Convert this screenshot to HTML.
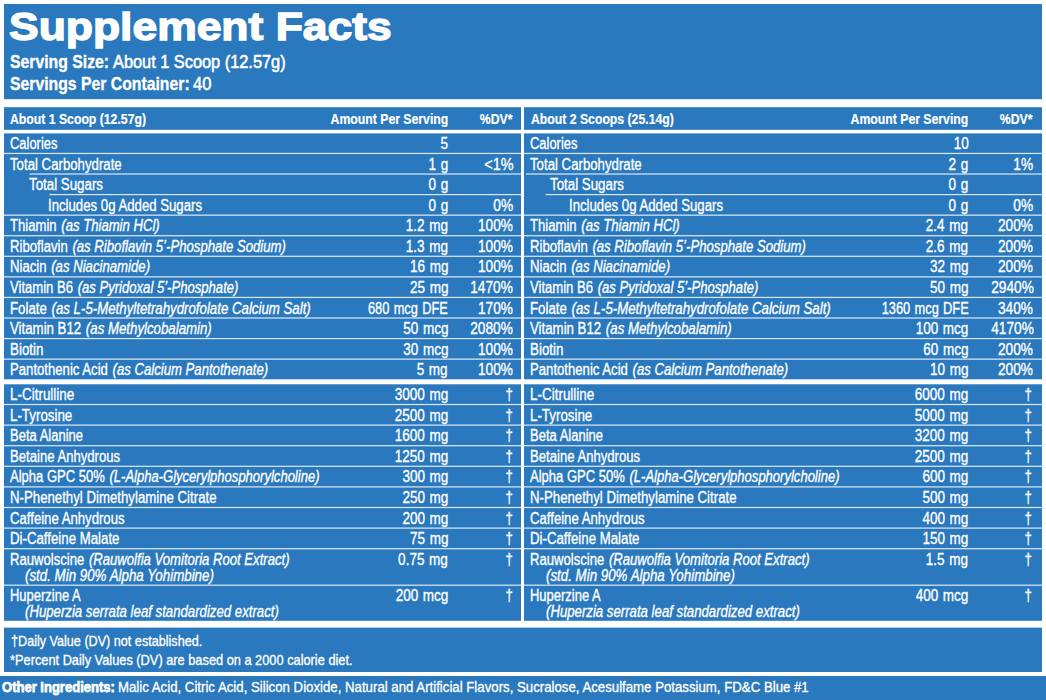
<!DOCTYPE html>
<html><head><meta charset="utf-8"><title>Supplement Facts</title>
<style>
html,body{margin:0;padding:0;background:#fff}
body{width:1046px;height:700px;position:relative;overflow:hidden;font-family:"Liberation Sans",sans-serif;color:#fff}
.bg{position:absolute;left:0;top:0}
.t{position:absolute;white-space:nowrap;-webkit-text-stroke:0.35px #fff}
.ln{position:absolute;height:1px;background:#d9e6f1}
i{font-style:italic;margin-left:1.2px}
b{font-weight:bold}
</style></head><body>
<svg class="bg" width="1046" height="700" viewBox="0 0 1046 700"><rect x="4" y="4" width="1038" height="95.2" fill="#2a78bd"/><rect x="4" y="107.2" width="517" height="22.6" fill="#2a78bd"/><rect x="4" y="133.4" width="517" height="245.9" fill="#2a78bd"/><rect x="4" y="152.82" width="517" height="1.25" fill="#d9e6f1"/><rect x="29.5" y="173.39" width="491.5" height="1.25" fill="#d9e6f1"/><rect x="49.3" y="193.96" width="471.7" height="1.25" fill="#d9e6f1"/><rect x="4" y="214.53" width="517" height="1.25" fill="#d9e6f1"/><rect x="4" y="235.10" width="517" height="1.25" fill="#d9e6f1"/><rect x="4" y="255.67" width="517" height="1.25" fill="#d9e6f1"/><rect x="4" y="276.25" width="517" height="1.25" fill="#d9e6f1"/><rect x="4" y="296.81" width="517" height="1.25" fill="#d9e6f1"/><rect x="4" y="317.38" width="517" height="1.25" fill="#d9e6f1"/><rect x="4" y="337.95" width="517" height="1.25" fill="#d9e6f1"/><rect x="4" y="358.52" width="517" height="1.25" fill="#d9e6f1"/><rect x="4" y="384.3" width="517" height="236.5" fill="#2a78bd"/><rect x="4" y="403.88" width="517" height="1.25" fill="#d9e6f1"/><rect x="4" y="424.48" width="517" height="1.25" fill="#d9e6f1"/><rect x="4" y="445.07" width="517" height="1.25" fill="#d9e6f1"/><rect x="4" y="465.68" width="517" height="1.25" fill="#d9e6f1"/><rect x="4" y="486.27" width="517" height="1.25" fill="#d9e6f1"/><rect x="4" y="506.88" width="517" height="1.25" fill="#d9e6f1"/><rect x="4" y="527.48" width="517" height="1.25" fill="#d9e6f1"/><rect x="4" y="548.08" width="517" height="1.25" fill="#d9e6f1"/><rect x="4" y="584.58" width="517" height="1.25" fill="#d9e6f1"/><rect x="524" y="107.2" width="518" height="22.6" fill="#2a78bd"/><rect x="524" y="133.4" width="518" height="245.9" fill="#2a78bd"/><rect x="524" y="152.82" width="518" height="1.25" fill="#d9e6f1"/><rect x="526" y="173.39" width="516" height="1.25" fill="#d9e6f1"/><rect x="545.5" y="193.96" width="496.5" height="1.25" fill="#d9e6f1"/><rect x="524" y="214.53" width="518" height="1.25" fill="#d9e6f1"/><rect x="524" y="235.10" width="518" height="1.25" fill="#d9e6f1"/><rect x="524" y="255.67" width="518" height="1.25" fill="#d9e6f1"/><rect x="524" y="276.25" width="518" height="1.25" fill="#d9e6f1"/><rect x="524" y="296.81" width="518" height="1.25" fill="#d9e6f1"/><rect x="524" y="317.38" width="518" height="1.25" fill="#d9e6f1"/><rect x="524" y="337.95" width="518" height="1.25" fill="#d9e6f1"/><rect x="524" y="358.52" width="518" height="1.25" fill="#d9e6f1"/><rect x="524" y="384.3" width="518" height="236.5" fill="#2a78bd"/><rect x="524" y="403.88" width="518" height="1.25" fill="#d9e6f1"/><rect x="524" y="424.48" width="518" height="1.25" fill="#d9e6f1"/><rect x="524" y="445.07" width="518" height="1.25" fill="#d9e6f1"/><rect x="524" y="465.68" width="518" height="1.25" fill="#d9e6f1"/><rect x="524" y="486.27" width="518" height="1.25" fill="#d9e6f1"/><rect x="524" y="506.88" width="518" height="1.25" fill="#d9e6f1"/><rect x="524" y="527.48" width="518" height="1.25" fill="#d9e6f1"/><rect x="524" y="548.08" width="518" height="1.25" fill="#d9e6f1"/><rect x="524" y="584.58" width="518" height="1.25" fill="#d9e6f1"/><rect x="4" y="627.6" width="1038" height="44.4" fill="#2a78bd"/><rect x="0" y="676" width="1046" height="24" fill="#2a78bd"/></svg>
<div class="t" style="left:9.00px;top:7.16px;font-size:39.5px;line-height:39.5px;transform:scaleX(1.125);transform-origin:left 0;font-weight:bold;-webkit-text-stroke:1.4px #fff">Supplement Facts</div>
<div class="t" style="left:10.20px;top:52.31px;font-size:19px;line-height:19px;transform:scaleX(0.83);transform-origin:left 0;font-weight:bold">Serving Size:</div>
<div class="t" style="left:112.60px;top:52.31px;font-size:19px;line-height:19px;transform:scaleX(0.86);transform-origin:left 0;-webkit-text-stroke:0.6px #fff">About 1 Scoop (12.57g)</div>
<div class="t" style="left:10.20px;top:73.91px;font-size:19px;line-height:19px;transform:scaleX(0.83);transform-origin:left 0;font-weight:bold">Servings Per Container:</div>
<div class="t" style="left:192.80px;top:73.91px;font-size:19px;line-height:19px;transform:scaleX(0.87);transform-origin:left 0;-webkit-text-stroke:0.6px #fff">40</div>
<div class="t" style="left:10.00px;top:112.47px;font-size:14.8px;line-height:14.8px;transform:scaleX(0.827);transform-origin:left 0;font-weight:bold;-webkit-text-stroke:0.2px #fff">About 1 Scoop (12.57g)</div>
<div class="t" style="right:598.00px;top:112.47px;font-size:14.8px;line-height:14.8px;transform:scaleX(0.827);transform-origin:right 0;font-weight:bold;-webkit-text-stroke:0.2px #fff">Amount Per Serving</div>
<div class="t" style="right:533.40px;top:112.47px;font-size:14.8px;line-height:14.8px;transform:scaleX(0.827);transform-origin:right 0;font-weight:bold;-webkit-text-stroke:0.2px #fff">%DV*</div>
<div class="t" style="left:9.80px;top:136.15px;font-size:16px;line-height:16px;transform:scaleX(0.8077);transform-origin:left 0">Calories</div>
<div class="t" style="right:598.00px;top:136.15px;font-size:16px;line-height:16px;transform:scaleX(0.845);transform-origin:right 0;word-spacing:1px">5</div>
<div class="t" style="left:9.80px;top:156.70px;font-size:16px;line-height:16px;transform:scaleX(0.8264);transform-origin:left 0">Total Carbohydrate</div>
<div class="t" style="right:598.00px;top:156.70px;font-size:16px;line-height:16px;transform:scaleX(0.845);transform-origin:right 0;word-spacing:1px">1 g</div>
<div class="t" style="right:533.00px;top:156.70px;font-size:16px;line-height:16px;transform:scaleX(0.9);transform-origin:right 0">&lt;1%</div>
<div class="t" style="left:29.00px;top:177.25px;font-size:16px;line-height:16px;transform:scaleX(0.832);transform-origin:left 0">Total Sugars</div>
<div class="t" style="right:598.00px;top:177.25px;font-size:16px;line-height:16px;transform:scaleX(0.845);transform-origin:right 0;word-spacing:1px">0 g</div>
<div class="t" style="left:48.40px;top:197.80px;font-size:16px;line-height:16px;transform:scaleX(0.8246);transform-origin:left 0">Includes 0g Added Sugars</div>
<div class="t" style="right:598.00px;top:197.80px;font-size:16px;line-height:16px;transform:scaleX(0.845);transform-origin:right 0;word-spacing:1px">0 g</div>
<div class="t" style="right:533.00px;top:197.80px;font-size:16px;line-height:16px;transform:scaleX(0.855);transform-origin:right 0">0%</div>
<div class="t" style="left:9.80px;top:218.35px;font-size:16px;line-height:16px;transform:scaleX(0.82);transform-origin:left 0">Thiamin <i>(as Thiamin HCl)</i></div>
<div class="t" style="right:598.00px;top:218.35px;font-size:16px;line-height:16px;transform:scaleX(0.845);transform-origin:right 0;word-spacing:1px">1.2 mg</div>
<div class="t" style="right:533.00px;top:218.35px;font-size:16px;line-height:16px;transform:scaleX(0.855);transform-origin:right 0">100%</div>
<div class="t" style="left:9.80px;top:238.90px;font-size:16px;line-height:16px;transform:scaleX(0.8223);transform-origin:left 0">Riboflavin <i>(as Riboflavin 5’-Phosphate Sodium)</i></div>
<div class="t" style="right:598.00px;top:238.90px;font-size:16px;line-height:16px;transform:scaleX(0.845);transform-origin:right 0;word-spacing:1px">1.3 mg</div>
<div class="t" style="right:533.00px;top:238.90px;font-size:16px;line-height:16px;transform:scaleX(0.855);transform-origin:right 0">100%</div>
<div class="t" style="left:9.80px;top:259.45px;font-size:16px;line-height:16px;transform:scaleX(0.8231);transform-origin:left 0">Niacin <i>(as Niacinamide)</i></div>
<div class="t" style="right:598.00px;top:259.45px;font-size:16px;line-height:16px;transform:scaleX(0.845);transform-origin:right 0;word-spacing:1px">16 mg</div>
<div class="t" style="right:533.00px;top:259.45px;font-size:16px;line-height:16px;transform:scaleX(0.855);transform-origin:right 0">100%</div>
<div class="t" style="left:9.80px;top:280.00px;font-size:16px;line-height:16px;transform:scaleX(0.8179);transform-origin:left 0">Vitamin B6 <i>(as Pyridoxal 5’-Phosphate)</i></div>
<div class="t" style="right:598.00px;top:280.00px;font-size:16px;line-height:16px;transform:scaleX(0.845);transform-origin:right 0;word-spacing:1px">25 mg</div>
<div class="t" style="right:533.00px;top:280.00px;font-size:16px;line-height:16px;transform:scaleX(0.855);transform-origin:right 0">1470%</div>
<div class="t" style="left:9.80px;top:300.55px;font-size:16px;line-height:16px;transform:scaleX(0.8283);transform-origin:left 0">Folate <i>(as L-5-Methyltetrahydrofolate Calcium Salt)</i></div>
<div class="t" style="right:598.00px;top:300.55px;font-size:16px;line-height:16px;transform:scaleX(0.8);transform-origin:right 0;word-spacing:1px">680 mcg DFE</div>
<div class="t" style="right:533.00px;top:300.55px;font-size:16px;line-height:16px;transform:scaleX(0.855);transform-origin:right 0">170%</div>
<div class="t" style="left:9.80px;top:321.10px;font-size:16px;line-height:16px;transform:scaleX(0.8281);transform-origin:left 0">Vitamin B12 <i>(as Methylcobalamin)</i></div>
<div class="t" style="right:598.00px;top:321.10px;font-size:16px;line-height:16px;transform:scaleX(0.845);transform-origin:right 0;word-spacing:1px">50 mcg</div>
<div class="t" style="right:533.00px;top:321.10px;font-size:16px;line-height:16px;transform:scaleX(0.855);transform-origin:right 0">2080%</div>
<div class="t" style="left:9.80px;top:341.65px;font-size:16px;line-height:16px;transform:scaleX(0.8368);transform-origin:left 0">Biotin</div>
<div class="t" style="right:598.00px;top:341.65px;font-size:16px;line-height:16px;transform:scaleX(0.845);transform-origin:right 0;word-spacing:1px">30 mcg</div>
<div class="t" style="right:533.00px;top:341.65px;font-size:16px;line-height:16px;transform:scaleX(0.855);transform-origin:right 0">100%</div>
<div class="t" style="left:9.80px;top:362.20px;font-size:16px;line-height:16px;transform:scaleX(0.8215);transform-origin:left 0">Pantothenic Acid <i>(as Calcium Pantothenate)</i></div>
<div class="t" style="right:598.00px;top:362.20px;font-size:16px;line-height:16px;transform:scaleX(0.845);transform-origin:right 0;word-spacing:1px">5 mg</div>
<div class="t" style="right:533.00px;top:362.20px;font-size:16px;line-height:16px;transform:scaleX(0.855);transform-origin:right 0">100%</div>
<div class="t" style="left:9.80px;top:387.25px;font-size:16px;line-height:16px;transform:scaleX(0.8409);transform-origin:left 0">L-Citrulline</div>
<div class="t" style="right:598.00px;top:387.25px;font-size:16px;line-height:16px;transform:scaleX(0.845);transform-origin:right 0;word-spacing:1px">3000 mg</div>
<div class="t" style="right:533.20px;top:387.25px;font-size:16px;line-height:16px;transform:scaleX(0.825);transform-origin:right 0">†</div>
<div class="t" style="left:9.80px;top:407.80px;font-size:16px;line-height:16px;transform:scaleX(0.8337);transform-origin:left 0">L-Tyrosine</div>
<div class="t" style="right:598.00px;top:407.80px;font-size:16px;line-height:16px;transform:scaleX(0.845);transform-origin:right 0;word-spacing:1px">2500 mg</div>
<div class="t" style="right:533.20px;top:407.80px;font-size:16px;line-height:16px;transform:scaleX(0.825);transform-origin:right 0">†</div>
<div class="t" style="left:9.80px;top:428.35px;font-size:16px;line-height:16px;transform:scaleX(0.8129);transform-origin:left 0">Beta Alanine</div>
<div class="t" style="right:598.00px;top:428.35px;font-size:16px;line-height:16px;transform:scaleX(0.845);transform-origin:right 0;word-spacing:1px">1600 mg</div>
<div class="t" style="right:533.20px;top:428.35px;font-size:16px;line-height:16px;transform:scaleX(0.825);transform-origin:right 0">†</div>
<div class="t" style="left:9.80px;top:448.90px;font-size:16px;line-height:16px;transform:scaleX(0.8197);transform-origin:left 0">Betaine Anhydrous</div>
<div class="t" style="right:598.00px;top:448.90px;font-size:16px;line-height:16px;transform:scaleX(0.845);transform-origin:right 0;word-spacing:1px">1250 mg</div>
<div class="t" style="right:533.20px;top:448.90px;font-size:16px;line-height:16px;transform:scaleX(0.825);transform-origin:right 0">†</div>
<div class="t" style="left:9.80px;top:469.45px;font-size:16px;line-height:16px;transform:scaleX(0.8144);transform-origin:left 0">Alpha GPC 50% <i>(L-Alpha-Glycerylphosphorylcholine)</i></div>
<div class="t" style="right:598.00px;top:469.45px;font-size:16px;line-height:16px;transform:scaleX(0.845);transform-origin:right 0;word-spacing:1px">300 mg</div>
<div class="t" style="right:533.20px;top:469.45px;font-size:16px;line-height:16px;transform:scaleX(0.825);transform-origin:right 0">†</div>
<div class="t" style="left:9.80px;top:490.00px;font-size:16px;line-height:16px;transform:scaleX(0.8265);transform-origin:left 0">N-Phenethyl Dimethylamine Citrate</div>
<div class="t" style="right:598.00px;top:490.00px;font-size:16px;line-height:16px;transform:scaleX(0.845);transform-origin:right 0;word-spacing:1px">250 mg</div>
<div class="t" style="right:533.20px;top:490.00px;font-size:16px;line-height:16px;transform:scaleX(0.825);transform-origin:right 0">†</div>
<div class="t" style="left:9.80px;top:510.55px;font-size:16px;line-height:16px;transform:scaleX(0.8218);transform-origin:left 0">Caffeine Anhydrous</div>
<div class="t" style="right:598.00px;top:510.55px;font-size:16px;line-height:16px;transform:scaleX(0.845);transform-origin:right 0;word-spacing:1px">200 mg</div>
<div class="t" style="right:533.20px;top:510.55px;font-size:16px;line-height:16px;transform:scaleX(0.825);transform-origin:right 0">†</div>
<div class="t" style="left:9.80px;top:531.10px;font-size:16px;line-height:16px;transform:scaleX(0.8277);transform-origin:left 0">Di-Caffeine Malate</div>
<div class="t" style="right:598.00px;top:531.10px;font-size:16px;line-height:16px;transform:scaleX(0.845);transform-origin:right 0;word-spacing:1px">75 mg</div>
<div class="t" style="right:533.20px;top:531.10px;font-size:16px;line-height:16px;transform:scaleX(0.825);transform-origin:right 0">†</div>
<div class="t" style="left:9.80px;top:551.65px;font-size:16px;line-height:16px;transform:scaleX(0.8193);transform-origin:left 0">Rauwolscine <i>(Rauwolfia Vomitoria Root Extract)</i></div>
<div class="t" style="left:24.30px;top:567.75px;font-size:16px;line-height:16px;transform:scaleX(0.8328);transform-origin:left 0"><i>(std. Min 90% Alpha Yohimbine)</i></div>
<div class="t" style="right:598.00px;top:551.65px;font-size:16px;line-height:16px;transform:scaleX(0.845);transform-origin:right 0;word-spacing:1px">0.75 mg</div>
<div class="t" style="right:533.20px;top:551.65px;font-size:16px;line-height:16px;transform:scaleX(0.825);transform-origin:right 0">†</div>
<div class="t" style="left:9.80px;top:587.55px;font-size:16px;line-height:16px;transform:scaleX(0.811);transform-origin:left 0">Huperzine A</div>
<div class="t" style="left:24.30px;top:603.85px;font-size:16px;line-height:16px;transform:scaleX(0.825);transform-origin:left 0"><i>(Huperzia serrata leaf standardized extract)</i></div>
<div class="t" style="right:598.00px;top:587.55px;font-size:16px;line-height:16px;transform:scaleX(0.845);transform-origin:right 0;word-spacing:1px">200 mcg</div>
<div class="t" style="right:533.20px;top:587.55px;font-size:16px;line-height:16px;transform:scaleX(0.825);transform-origin:right 0">†</div>
<div class="t" style="left:531.00px;top:112.47px;font-size:14.8px;line-height:14.8px;transform:scaleX(0.827);transform-origin:left 0;font-weight:bold;-webkit-text-stroke:0.2px #fff">About 2 Scoops (25.14g)</div>
<div class="t" style="right:77.60px;top:112.47px;font-size:14.8px;line-height:14.8px;transform:scaleX(0.827);transform-origin:right 0;font-weight:bold;-webkit-text-stroke:0.2px #fff">Amount Per Serving</div>
<div class="t" style="right:13.50px;top:112.47px;font-size:14.8px;line-height:14.8px;transform:scaleX(0.827);transform-origin:right 0;font-weight:bold;-webkit-text-stroke:0.2px #fff">%DV*</div>
<div class="t" style="left:530.40px;top:136.15px;font-size:16px;line-height:16px;transform:scaleX(0.8077);transform-origin:left 0">Calories</div>
<div class="t" style="right:77.60px;top:136.15px;font-size:16px;line-height:16px;transform:scaleX(0.845);transform-origin:right 0;word-spacing:1px">10</div>
<div class="t" style="left:530.40px;top:156.70px;font-size:16px;line-height:16px;transform:scaleX(0.8264);transform-origin:left 0">Total Carbohydrate</div>
<div class="t" style="right:77.60px;top:156.70px;font-size:16px;line-height:16px;transform:scaleX(0.845);transform-origin:right 0;word-spacing:1px">2 g</div>
<div class="t" style="right:12.60px;top:156.70px;font-size:16px;line-height:16px;transform:scaleX(0.855);transform-origin:right 0">1%</div>
<div class="t" style="left:550.20px;top:177.25px;font-size:16px;line-height:16px;transform:scaleX(0.832);transform-origin:left 0">Total Sugars</div>
<div class="t" style="right:77.60px;top:177.25px;font-size:16px;line-height:16px;transform:scaleX(0.845);transform-origin:right 0;word-spacing:1px">0 g</div>
<div class="t" style="left:569.30px;top:197.80px;font-size:16px;line-height:16px;transform:scaleX(0.8246);transform-origin:left 0">Includes 0g Added Sugars</div>
<div class="t" style="right:77.60px;top:197.80px;font-size:16px;line-height:16px;transform:scaleX(0.845);transform-origin:right 0;word-spacing:1px">0 g</div>
<div class="t" style="right:12.60px;top:197.80px;font-size:16px;line-height:16px;transform:scaleX(0.855);transform-origin:right 0">0%</div>
<div class="t" style="left:530.40px;top:218.35px;font-size:16px;line-height:16px;transform:scaleX(0.82);transform-origin:left 0">Thiamin <i>(as Thiamin HCl)</i></div>
<div class="t" style="right:77.60px;top:218.35px;font-size:16px;line-height:16px;transform:scaleX(0.845);transform-origin:right 0;word-spacing:1px">2.4 mg</div>
<div class="t" style="right:12.60px;top:218.35px;font-size:16px;line-height:16px;transform:scaleX(0.855);transform-origin:right 0">200%</div>
<div class="t" style="left:530.40px;top:238.90px;font-size:16px;line-height:16px;transform:scaleX(0.8223);transform-origin:left 0">Riboflavin <i>(as Riboflavin 5’-Phosphate Sodium)</i></div>
<div class="t" style="right:77.60px;top:238.90px;font-size:16px;line-height:16px;transform:scaleX(0.845);transform-origin:right 0;word-spacing:1px">2.6 mg</div>
<div class="t" style="right:12.60px;top:238.90px;font-size:16px;line-height:16px;transform:scaleX(0.855);transform-origin:right 0">200%</div>
<div class="t" style="left:530.40px;top:259.45px;font-size:16px;line-height:16px;transform:scaleX(0.8231);transform-origin:left 0">Niacin <i>(as Niacinamide)</i></div>
<div class="t" style="right:77.60px;top:259.45px;font-size:16px;line-height:16px;transform:scaleX(0.845);transform-origin:right 0;word-spacing:1px">32 mg</div>
<div class="t" style="right:12.60px;top:259.45px;font-size:16px;line-height:16px;transform:scaleX(0.855);transform-origin:right 0">200%</div>
<div class="t" style="left:530.40px;top:280.00px;font-size:16px;line-height:16px;transform:scaleX(0.8179);transform-origin:left 0">Vitamin B6 <i>(as Pyridoxal 5’-Phosphate)</i></div>
<div class="t" style="right:77.60px;top:280.00px;font-size:16px;line-height:16px;transform:scaleX(0.845);transform-origin:right 0;word-spacing:1px">50 mg</div>
<div class="t" style="right:12.60px;top:280.00px;font-size:16px;line-height:16px;transform:scaleX(0.855);transform-origin:right 0">2940%</div>
<div class="t" style="left:530.40px;top:300.55px;font-size:16px;line-height:16px;transform:scaleX(0.8283);transform-origin:left 0">Folate <i>(as L-5-Methyltetrahydrofolate Calcium Salt)</i></div>
<div class="t" style="right:77.60px;top:300.55px;font-size:16px;line-height:16px;transform:scaleX(0.8);transform-origin:right 0;word-spacing:1px">1360 mcg DFE</div>
<div class="t" style="right:12.60px;top:300.55px;font-size:16px;line-height:16px;transform:scaleX(0.855);transform-origin:right 0">340%</div>
<div class="t" style="left:530.40px;top:321.10px;font-size:16px;line-height:16px;transform:scaleX(0.8281);transform-origin:left 0">Vitamin B12 <i>(as Methylcobalamin)</i></div>
<div class="t" style="right:77.60px;top:321.10px;font-size:16px;line-height:16px;transform:scaleX(0.845);transform-origin:right 0;word-spacing:1px">100 mcg</div>
<div class="t" style="right:12.60px;top:321.10px;font-size:16px;line-height:16px;transform:scaleX(0.855);transform-origin:right 0">4170%</div>
<div class="t" style="left:530.40px;top:341.65px;font-size:16px;line-height:16px;transform:scaleX(0.8368);transform-origin:left 0">Biotin</div>
<div class="t" style="right:77.60px;top:341.65px;font-size:16px;line-height:16px;transform:scaleX(0.845);transform-origin:right 0;word-spacing:1px">60 mcg</div>
<div class="t" style="right:12.60px;top:341.65px;font-size:16px;line-height:16px;transform:scaleX(0.855);transform-origin:right 0">200%</div>
<div class="t" style="left:530.40px;top:362.20px;font-size:16px;line-height:16px;transform:scaleX(0.8215);transform-origin:left 0">Pantothenic Acid <i>(as Calcium Pantothenate)</i></div>
<div class="t" style="right:77.60px;top:362.20px;font-size:16px;line-height:16px;transform:scaleX(0.845);transform-origin:right 0;word-spacing:1px">10 mg</div>
<div class="t" style="right:12.60px;top:362.20px;font-size:16px;line-height:16px;transform:scaleX(0.855);transform-origin:right 0">200%</div>
<div class="t" style="left:530.40px;top:387.25px;font-size:16px;line-height:16px;transform:scaleX(0.8409);transform-origin:left 0">L-Citrulline</div>
<div class="t" style="right:77.60px;top:387.25px;font-size:16px;line-height:16px;transform:scaleX(0.845);transform-origin:right 0;word-spacing:1px">6000 mg</div>
<div class="t" style="right:13.80px;top:387.25px;font-size:16px;line-height:16px;transform:scaleX(0.825);transform-origin:right 0">†</div>
<div class="t" style="left:530.40px;top:407.80px;font-size:16px;line-height:16px;transform:scaleX(0.8337);transform-origin:left 0">L-Tyrosine</div>
<div class="t" style="right:77.60px;top:407.80px;font-size:16px;line-height:16px;transform:scaleX(0.845);transform-origin:right 0;word-spacing:1px">5000 mg</div>
<div class="t" style="right:13.80px;top:407.80px;font-size:16px;line-height:16px;transform:scaleX(0.825);transform-origin:right 0">†</div>
<div class="t" style="left:530.40px;top:428.35px;font-size:16px;line-height:16px;transform:scaleX(0.8129);transform-origin:left 0">Beta Alanine</div>
<div class="t" style="right:77.60px;top:428.35px;font-size:16px;line-height:16px;transform:scaleX(0.845);transform-origin:right 0;word-spacing:1px">3200 mg</div>
<div class="t" style="right:13.80px;top:428.35px;font-size:16px;line-height:16px;transform:scaleX(0.825);transform-origin:right 0">†</div>
<div class="t" style="left:530.40px;top:448.90px;font-size:16px;line-height:16px;transform:scaleX(0.8197);transform-origin:left 0">Betaine Anhydrous</div>
<div class="t" style="right:77.60px;top:448.90px;font-size:16px;line-height:16px;transform:scaleX(0.845);transform-origin:right 0;word-spacing:1px">2500 mg</div>
<div class="t" style="right:13.80px;top:448.90px;font-size:16px;line-height:16px;transform:scaleX(0.825);transform-origin:right 0">†</div>
<div class="t" style="left:530.40px;top:469.45px;font-size:16px;line-height:16px;transform:scaleX(0.8144);transform-origin:left 0">Alpha GPC 50% <i>(L-Alpha-Glycerylphosphorylcholine)</i></div>
<div class="t" style="right:77.60px;top:469.45px;font-size:16px;line-height:16px;transform:scaleX(0.845);transform-origin:right 0;word-spacing:1px">600 mg</div>
<div class="t" style="right:13.80px;top:469.45px;font-size:16px;line-height:16px;transform:scaleX(0.825);transform-origin:right 0">†</div>
<div class="t" style="left:530.40px;top:490.00px;font-size:16px;line-height:16px;transform:scaleX(0.8265);transform-origin:left 0">N-Phenethyl Dimethylamine Citrate</div>
<div class="t" style="right:77.60px;top:490.00px;font-size:16px;line-height:16px;transform:scaleX(0.845);transform-origin:right 0;word-spacing:1px">500 mg</div>
<div class="t" style="right:13.80px;top:490.00px;font-size:16px;line-height:16px;transform:scaleX(0.825);transform-origin:right 0">†</div>
<div class="t" style="left:530.40px;top:510.55px;font-size:16px;line-height:16px;transform:scaleX(0.8218);transform-origin:left 0">Caffeine Anhydrous</div>
<div class="t" style="right:77.60px;top:510.55px;font-size:16px;line-height:16px;transform:scaleX(0.845);transform-origin:right 0;word-spacing:1px">400 mg</div>
<div class="t" style="right:13.80px;top:510.55px;font-size:16px;line-height:16px;transform:scaleX(0.825);transform-origin:right 0">†</div>
<div class="t" style="left:530.40px;top:531.10px;font-size:16px;line-height:16px;transform:scaleX(0.8277);transform-origin:left 0">Di-Caffeine Malate</div>
<div class="t" style="right:77.60px;top:531.10px;font-size:16px;line-height:16px;transform:scaleX(0.845);transform-origin:right 0;word-spacing:1px">150 mg</div>
<div class="t" style="right:13.80px;top:531.10px;font-size:16px;line-height:16px;transform:scaleX(0.825);transform-origin:right 0">†</div>
<div class="t" style="left:530.40px;top:551.65px;font-size:16px;line-height:16px;transform:scaleX(0.8193);transform-origin:left 0">Rauwolscine <i>(Rauwolfia Vomitoria Root Extract)</i></div>
<div class="t" style="left:544.90px;top:567.75px;font-size:16px;line-height:16px;transform:scaleX(0.8328);transform-origin:left 0"><i>(std. Min 90% Alpha Yohimbine)</i></div>
<div class="t" style="right:77.60px;top:551.65px;font-size:16px;line-height:16px;transform:scaleX(0.845);transform-origin:right 0;word-spacing:1px">1.5 mg</div>
<div class="t" style="right:13.80px;top:551.65px;font-size:16px;line-height:16px;transform:scaleX(0.825);transform-origin:right 0">†</div>
<div class="t" style="left:530.40px;top:587.55px;font-size:16px;line-height:16px;transform:scaleX(0.811);transform-origin:left 0">Huperzine A</div>
<div class="t" style="left:544.90px;top:603.85px;font-size:16px;line-height:16px;transform:scaleX(0.825);transform-origin:left 0"><i>(Huperzia serrata leaf standardized extract)</i></div>
<div class="t" style="right:77.60px;top:587.55px;font-size:16px;line-height:16px;transform:scaleX(0.845);transform-origin:right 0;word-spacing:1px">400 mcg</div>
<div class="t" style="right:13.80px;top:587.55px;font-size:16px;line-height:16px;transform:scaleX(0.825);transform-origin:right 0">†</div>
<div class="t" style="left:11.00px;top:633.30px;font-size:15px;line-height:15px;transform:scaleX(0.841);transform-origin:left 0">†Daily Value (DV) not established.</div>
<div class="t" style="left:10.40px;top:651.90px;font-size:15px;line-height:15px;transform:scaleX(0.853);transform-origin:left 0">*Percent Daily Values (DV) are based on a 2000 calorie diet.</div>
<div class="t" style="left:2.30px;top:679.48px;font-size:15.5px;line-height:15.5px;transform:scaleX(0.84);transform-origin:left 0;font-weight:bold;-webkit-text-stroke:0.75px #fff">Other Ingredients:</div>
<div class="t" style="left:117.60px;top:679.48px;font-size:15.5px;line-height:15.5px;transform:scaleX(0.853);transform-origin:left 0">Malic Acid, Citric Acid, Silicon Dioxide, Natural and Artificial Flavors, Sucralose, Acesulfame Potassium, FD&amp;C Blue #1</div>
</body></html>
